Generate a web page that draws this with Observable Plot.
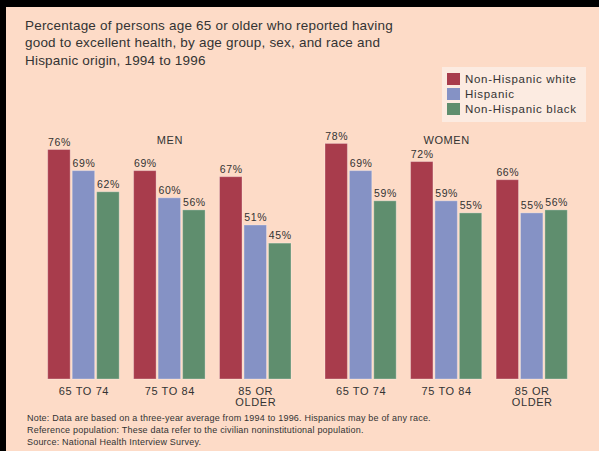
<!DOCTYPE html>
<html>
<head>
<meta charset="utf-8">
<script src="https://cdn.jsdelivr.net/npm/d3@7"></script>
<script src="https://cdn.jsdelivr.net/npm/@observablehq/plot@0.6"></script>
<style>
  html, body { margin: 0; padding: 0; background: #000; }
  #page { position: relative; width: 599px; height: 451px; background: #000; overflow: hidden;
          font-family: "Liberation Sans", Arial, sans-serif; color: #333; }
  #panel { position: absolute; left: 6px; top: 7px; right: 0; bottom: 0; background: #FDDBC7; }
  #title { position: absolute; left: 25px; top: 17px; font-size: 13.5px; line-height: 17.3px; letter-spacing: 0.2px; color: #333; }
  #legend { position: absolute; left: 442px; top: 67px; width: 144px; height: 55px; background: #FCEBE1; }
  .li { position: absolute; left: 5px; font-size: 11.5px; letter-spacing: 0.7px; line-height: 12px; white-space: nowrap; }
  .sw { display: inline-block; width: 13px; height: 12px; vertical-align: top; margin-right: 5px; }
  .chart { position: absolute; top: 110px; }
  .chart svg text { letter-spacing: 0.6px; }
  #notes { position: absolute; left: 27px; top: 412px; font-size: 9px; line-height: 12.2px; letter-spacing: 0.2px; color: #333; }
</style>
</head>
<body>
<div id="page">
  <div id="panel"></div>
  <div id="title">Percentage of persons age 65 or older who reported having<br>good to excellent health, by age group, sex, and race and<br>Hispanic origin, 1994 to 1996</div>
  <div id="legend"></div>
  <div class="chart" id="men" style="left:0px"></div>
  <div class="chart" id="women" style="left:300px"></div>
  <div id="notes">Note: Data are based on a three-year average from 1994 to 1996. Hispanics may be of any race.<br>Reference population: These data refer to the civilian noninstitutional population.<br>Source: National Health Interview Survey.</div>
</div>
<script>
const ages = ["65 TO 74", "75 TO 84", "85 OR\nOLDER"];
const races = ["Non-Hispanic white", "Hispanic", "Non-Hispanic black"];
const sexes = ["MEN", "WOMEN"];
const menWhite = [76, 69, 67];
const menHispanic = [69, 60, 51];
const menBlack = [62, 56, 45];
const womenWhite = [78, 72, 66];
const womenHispanic = [69, 59, 55];
const womenBlack = [59, 55, 56];
const raceColors = ["#A83C4C", "#8592C5", "#5F8E6E"];

function rowsFor(series) {
  const rows = [];
  ages.forEach((age, i) => {
    races.forEach((race, j) => rows.push({age, race, value: series[j][i]}));
  });
  return rows;
}
const menRows = rowsFor([menWhite, menHispanic, menBlack]);
const womenRows = rowsFor([womenWhite, womenHispanic, womenBlack]);

function chart(rows, sexLabel, width, marginLeft, marginRight) {
  return Plot.plot({
    width, height: 305,
    marginTop: 27.4, marginBottom: 36, marginLeft, marginRight,
    style: {background: "transparent", fontFamily: '"Liberation Sans", Arial, sans-serif', fontSize: "11px", color: "#333", overflow: "visible"},
    fx: {domain: ages, paddingInner: 0.168, paddingOuter: 0, round: false, label: null, axis: "bottom", tickSize: 0, tickPadding: 8},
    x: {domain: races, paddingInner: 0.082, paddingOuter: 0, round: false, axis: null},
    y: {domain: [0, 80], axis: null},
    color: {domain: races, range: raceColors},
    marks: [
      Plot.barY(rows, {fx: "age", x: "race", y: "value", fill: "race", stroke: "#fff", strokeOpacity: 0.3, strokeWidth: 1}),
      Plot.text(rows, {fx: "age", x: "race", y: "value", text: d => d.value + "%", dy: -7.5, fontSize: 10.5, fill: "#333"}),
      Plot.text([{age: ages[1], label: sexLabel}], {fx: "age", text: "label", frameAnchor: "top", dy: -1.5, fontSize: 11, fill: "#333"})
    ]
  });
}

document.getElementById("men").appendChild(chart(menRows, sexes[0], 305, 47.7, 14));
document.getElementById("women").appendChild(chart(womenRows, sexes[1], 299, 25, 31.7));

const legend = document.getElementById("legend");
races.forEach((r, i) => {
  const d = document.createElement("div");
  d.className = "li";
  d.style.top = (6 + i * 15) + "px";
  d.innerHTML = `<span class="sw" style="background:${raceColors[i]}"></span>${r}`;
  legend.appendChild(d);
});
</script>
</body>
</html>
